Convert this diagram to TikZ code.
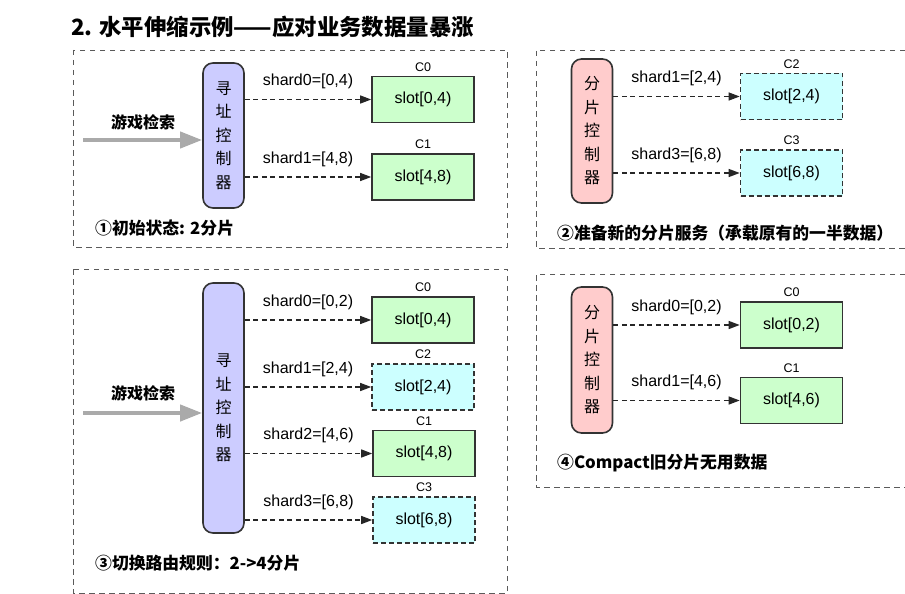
\documentclass[tikz,border=0pt]{standalone}
\usepackage{fontspec}
\setmainfont{Liberation Sans}
\newfontfamily\cjk{Noto Sans CJK SC}
\usepackage{tikz}
\usetikzlibrary{arrows.meta}
\definecolor{ctrlblue}{HTML}{CCCCFF}
\definecolor{ctrlpink}{HTML}{FFCCCC}
\definecolor{oldgreen}{HTML}{CCFFCC}
\definecolor{newcyan}{HTML}{CCFFFF}
\definecolor{edge}{HTML}{333333}
\definecolor{frame}{HTML}{5A5A5A}
\definecolor{reqgray}{HTML}{AAAAAA}
\tikzset{
  % a dashed frame round one step
  panel/.style    = {draw=frame, line width=0.9pt, dash pattern=on 5.5pt off 4.5pt},
  % the tall controller
  ctrl/.style     = {draw=edge, line width=1.6pt, rounded corners=10pt,
                     minimum width=41pt, align=center, inner sep=0pt,
                     font=\cjk\fontsize{16}{23.5}\selectfont},
  % an existing shard service
  oldslot/.style  = {draw=edge, fill=oldgreen, line width=1.6pt,
                     minimum width=102pt, minimum height=46pt,
                     font=\fontsize{16}{19}\selectfont},
  % a new shard service
  newslot/.style  = {oldslot, fill=newcyan, dash pattern=on 5pt off 3pt},
  % the cluster name above a box
  clab/.style     = {font=\fontsize{12.5}{14}\selectfont, inner sep=0pt},
  % a routing rule
  sharr/.style    = {-{Triangle[length=11pt,width=8pt]}, line width=1.3pt,
                     draw=black!85, dash pattern=on 5pt off 3.5pt},
  shlab/.style    = {above=10pt, inner sep=0pt, font=\fontsize{16}{19}\selectfont},
  % the incoming search traffic
  inarr/.style    = {-{Triangle[length=22pt,width=16pt]}, line width=4pt,
                     draw=reqgray},
  req/.style      = {font=\cjk\bfseries\fontsize{16}{19}\selectfont},
  % the caption of a step
  steptext/.style = {anchor=west, inner sep=0pt,
                     font=\cjk\bfseries\fontsize{16.8}{19}\selectfont},
}
\newcommand{\slotnode}[5]{% name, style, position, cluster, range
  \node[#2, label={[clab, label distance=4pt]above:#4}] (#1) at #3 {slot#5};}
\newcommand{\shard}[3]{% controller, box, rule
  \draw[sharr] (#1.east |- #2.west) -- node[shlab] {#3} (#2.west);}

\begin{document}
\begin{tikzpicture}[x=1pt, y=-1pt]
  \useasboundingbox (0,0) rectangle (905,594);
  \node[anchor=west, inner sep=0pt, font=\cjk\bfseries\fontsize{22.4}{26}\selectfont]
        (title) at (71,27) {2. 水平伸缩示例——应对业务数据量暴涨};

  % step 1
  \draw[panel] (73,50) rectangle (507,247);
  \node[ctrl, fill=ctrlblue, minimum height=145pt] (ctrl1) at (223.5,135.5)
        {寻\\址\\控\\制\\器};
  \coordinate (in1) at (83,140);
  \draw[inarr] (in1) -- (in1 -| ctrl1.west);
  \node[req] (req1) at (143,122) {游戏检索};
  \slotnode{c0a}{oldslot}{(423,99.5)}{C0}{[0,4)}
  \slotnode{c1a}{oldslot}{(423,177)}{C1}{[4,8)}
  \shard{ctrl1}{c0a}{shard0=[0,4)}
  \shard{ctrl1}{c1a}{shard1=[4,8)}
  \node[steptext] (cap1) at (95,228) {①初始状态: 2分片};

  % step 2
  \draw[panel] (905,50) -| (536,248) -- (905,248);
  \node[ctrl, fill=ctrlpink, minimum height=144pt] (ctrl2) at (592,131)
        {分\\片\\控\\制\\器};
  \slotnode{c2b}{newslot}{(791.5,96.5)}{C2}{[2,4)}
  \slotnode{c3b}{newslot}{(791.5,173)}{C3}{[6,8)}
  \shard{ctrl2}{c2b}{shard1=[2,4)}
  \shard{ctrl2}{c3b}{shard3=[6,8)}
  \node[steptext] (cap2) at (557,233) {②准备新的分片服务（承载原有的一半数据）};

  % step 3
  \draw[panel] (73,269) rectangle (507,593);
  \node[ctrl, fill=ctrlblue, minimum height=250pt] (ctrl3) at (223.5,408)
        {寻\\址\\控\\制\\器};
  \coordinate (in3) at (83,413);
  \draw[inarr] (in3) -- (in3 -| ctrl3.west);
  \node[req] (req3) at (143,393) {游戏检索};
  \slotnode{c0c}{oldslot}{(423,320)}{C0}{[0,4)}
  \slotnode{c2c}{newslot}{(423,387)}{C2}{[2,4)}
  \slotnode{c1c}{oldslot}{(424,453.5)}{C1}{[4,8)}
  \slotnode{c3c}{newslot}{(424,520)}{C3}{[6,8)}
  \shard{ctrl3}{c0c}{shard0=[0,2)}
  \shard{ctrl3}{c2c}{shard1=[2,4)}
  \shard{ctrl3}{c1c}{shard2=[4,6)}
  \shard{ctrl3}{c3c}{shard3=[6,8)}
  \node[steptext] (cap3) at (95,563) {③切换路由规则：2->4分片};

  % step 4
  \draw[panel] (905,274) -| (536,487) -- (905,487);
  \node[ctrl, fill=ctrlpink, minimum height=146pt] (ctrl4) at (592,360)
        {分\\片\\控\\制\\器};
  \slotnode{c0d}{oldslot}{(791.5,325)}{C0}{[0,2)}
  \slotnode{c1d}{oldslot}{(791.5,400.5)}{C1}{[4,6)}
  \shard{ctrl4}{c0d}{shard0=[0,2)}
  \shard{ctrl4}{c1d}{shard1=[4,6)}
  \node[steptext] (cap4) at (557,463) {④Compact旧分片无用数据};
\end{tikzpicture}
\end{document}
